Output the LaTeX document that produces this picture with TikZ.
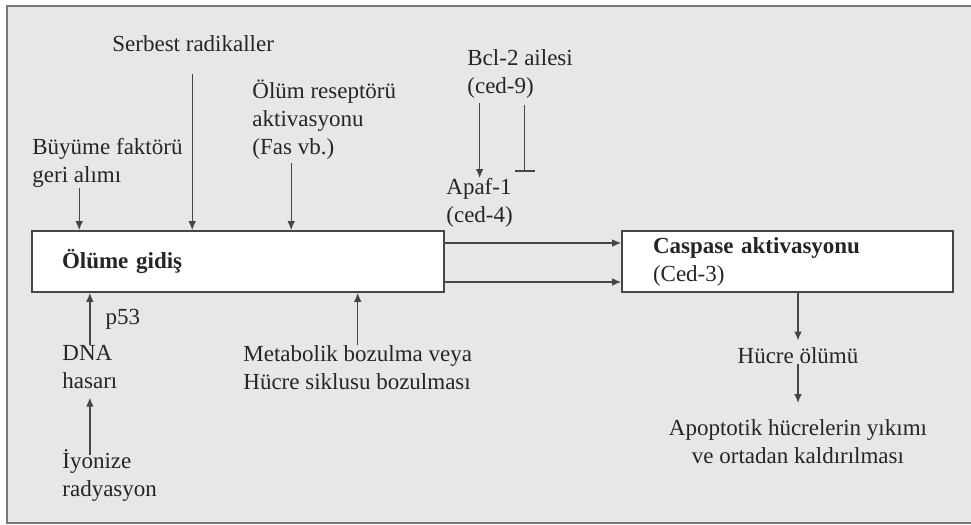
\documentclass[tikz,border=0pt]{standalone}
\usepackage{fontspec}
\setmainfont{Liberation Serif}
\usepackage{xcolor}
\usetikzlibrary{arrows.meta,positioning,calc}

\definecolor{panelbg}{RGB}{230,231,233}
\definecolor{framegray}{RGB}{120,120,122}
\definecolor{boxline}{RGB}{70,70,72}
\definecolor{inktext}{RGB}{40,36,36}

\begin{document}
\begin{tikzpicture}[
    x=0.5pt, y=-0.5pt,
    lbl/.style={
        align=left,
        inner sep=0pt,
        text=inktext,
        font=\fontsize{11.5}{14}\selectfont
    },
    box/.style={
        draw=boxline,
        line width=0.8pt,
        fill=white,
        align=left,
        inner ysep=2pt,
        minimum height=30.5pt,
        text=inktext,
        font=\fontsize{11.5}{14}\selectfont
    },
    arrow/.style={
        -{Latex[length=4.5pt,width=3.8pt]},
        line width=0.65pt,
        draw=boxline
    },
    inhibit/.style={
        -{Bar[width=10pt,line width=0.65pt]},
        line width=0.65pt,
        draw=boxline
    }
]

% Panel
\useasboundingbox (0,0) rectangle (971,525);
\fill[white] (0,0) rectangle (971,525);
\fill[panelbg] (7,6) rectangle (975,523);
\draw[framegray, line width=0.9pt] (975,6) -- (7,6) -- (7,523) -- (975,523);

% Two main boxes
\node[box, minimum width=206pt, text width=176pt, inner xsep=15pt] (death) at (238,261.5)
{\textbf{Ölüme gidiş}};

\node[box, minimum width=165.5pt, text width=134.5pt, inner xsep=15.5pt] (caspase) at (787.5,261.5)
{\textbf{Caspase aktivasyonu}\\
(Ced-3)};

% Inputs from above
\node[lbl, anchor=west] (serbest) at (112,44) {Serbest radikaller};
\node[lbl, anchor=west] (buyume) at (32,163) {Büyüme faktörü\\ geri alımı};
\node[lbl, anchor=west] (fas) at (252,120) {Ölüm reseptörü\\ aktivasyonu\\ (Fas vb.)};
\node[lbl, anchor=west] (bcl) at (467,73.5) {Bcl-2 ailesi\\ (ced-9)};
\node[lbl, anchor=west] (apaf) at (446,203) {Apaf-1\\ (ced-4)};

% Inputs from below
\node[lbl, anchor=west] (dna) at (62,367.5) {DNA\\ hasarı};
\node[lbl, anchor=west] (iyon) at (62,475.5) {İyonize\\ radyasyon};
\node[lbl, anchor=west] (metab) at (243,367.5) {Metabolik bozulma veya\\ Hücre siklusu bozulması};

% Outcome
\node[lbl] (hucre) at (798,356) {Hücre ölümü};
\node[lbl, align=center] (apop) at (798,441.5) {Apoptotik hücrelerin yıkımı\\ ve ortadan kaldırılması};

% Entry points on the boxes
\coordinate (in1) at ([xshift=24pt]death.north west);
\coordinate (in2) at ([xshift=80.5pt]death.north west);
\coordinate (in3) at ([xshift=130pt]death.north west);
\coordinate (out1) at ([xshift=5.25pt]caspase.south);

% Arrows into the death box
\draw[arrow] (buyume.south -| in1) -- (in1);
\draw[arrow] (serbest.south -| in2) ++(0,22) -- (in2);
\draw[arrow] (fas.south -| in3) ++(0,3) -- (in3);
\draw[arrow] (dna.north) -- (dna.north |- death.south)
    node[lbl, midway, right=7.5pt] (p53) {p53};
\draw[arrow, shorten <=-3pt, shorten >=4pt] (iyon.north -| dna.north) -- (dna.south);
\draw[arrow] (metab.north) -- (metab.north |- death.south);

% Bcl-2 branch
\draw[arrow] (bcl.south -| apaf.north) ++(0,5) -- (apaf.north);
\draw[inhibit] ($(bcl.south)+(2.25pt,-3.5pt)$) -- ($(bcl.south |- apaf.north)+(2.25pt,3.25pt)$);

% Two arrows to caspase
\draw[arrow] ([yshift=9.25pt]death.east) -- ([yshift=9.25pt]caspase.west);
\draw[arrow] ([yshift=-10.25pt]death.east) -- ([yshift=-10.25pt]caspase.west);

% Down to cell death
\draw[arrow, shorten >=3.5pt] (out1) -- (out1 |- hucre.north);
\draw[arrow, shorten >=8pt] (hucre.south) -- (apop.north);

\end{tikzpicture}
\end{document}
